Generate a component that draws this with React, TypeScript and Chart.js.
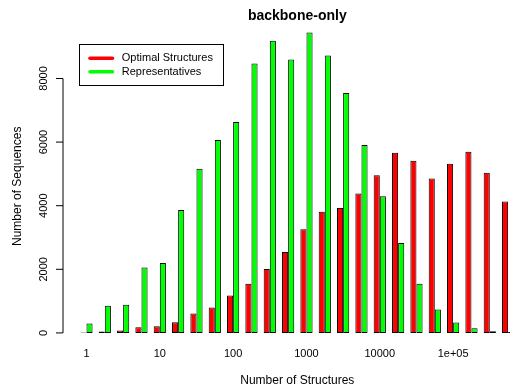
import React, { useEffect, useRef } from 'react';
import { Chart, registerables } from 'chart.js';

Chart.register(...registerables);

const FONT = '"Liberation Sans", Arial, Helvetica, sans-serif';

const chartTitle = 'backbone-only';
const xAxisTitle = 'Number of Structures';
const yAxisTitle = 'Number of Sequences';
const seriesNames = ['Optimal Structures', 'Representatives'];
const seriesColors = ['#FF0000', '#00FF00'];

// 24 bins, quarter-decade wide; only decade labels shown
const binLabels = [
  '1', '', '', '',
  '10', '', '', '',
  '100', '', '', '',
  '1000', '', '', '',
  '10000', '', '', '',
  '1e+05', '', '', '',
];

const optimalStructures = [
  15, 47, 78, 181, 212, 337, 608, 796, 1179, 1544, 2012, 2543,
  3260, 3810, 3925, 4384, 4955, 5663, 5413, 4852, 5320, 5694, 5039, 4134,
];

const representatives = [
  296, 858, 889, 2053, 2200, 3863, 5164, 6069, 6630, 8471, 9189, 8596,
  9448, 8721, 7544, 5912, 4300, 2824, 1544, 733, 328, 150, 56, 25,
];

const yTicks = [0, 2000, 4000, 6000, 8000];

const rStylePlugin = {
  id: 'rStyle',
  afterDraw(chart: any) {
    const ctx = chart.ctx;
    const ys = chart.scales.y;
    const area = chart.chartArea;
    const axisX = area.left - 14.3;
    ctx.save();
    // y axis line spanning tick range, with outward ticks
    ctx.strokeStyle = '#000';
    ctx.lineWidth = 1;
    ctx.beginPath();
    ctx.moveTo(axisX, ys.getPixelForValue(yTicks[0]));
    ctx.lineTo(axisX, ys.getPixelForValue(yTicks[yTicks.length - 1]));
    for (const v of yTicks) {
      const py = ys.getPixelForValue(v);
      ctx.moveTo(axisX - 7, py);
      ctx.lineTo(axisX, py);
    }
    ctx.stroke();

    // main title
    ctx.fillStyle = '#000';
    ctx.font = 'bold 14px ' + FONT;
    ctx.textAlign = 'center';
    ctx.textBaseline = 'alphabetic';
    ctx.fillText(chartTitle, (area.left + area.right) / 2, 19.5);

    // legend box
    const bx = area.left + 2.2;
    const by = 44.5;
    const bw = 144;
    const bh = 41;
    ctx.fillStyle = '#fff';
    ctx.fillRect(bx, by, bw, bh);
    ctx.strokeStyle = '#000';
    ctx.lineWidth = 1;
    ctx.strokeRect(bx, by, bw, bh);
    ctx.font = '11px ' + FONT;
    ctx.textAlign = 'left';
    ctx.textBaseline = 'middle';
    chart.data.datasets.forEach((ds: any, i: number) => {
      const ly = 58.3 + i * 13.4;
      ctx.strokeStyle = ds.backgroundColor;
      ctx.lineWidth = 3.5;
      ctx.lineCap = 'round';
      ctx.beginPath();
      ctx.moveTo(bx + 10.5, ly);
      ctx.lineTo(bx + 33, ly);
      ctx.stroke();
      ctx.fillStyle = '#000';
      ctx.fillText(ds.label, bx + 42.3, ly);
    });
    ctx.restore();
  },
};

export default function App() {
  const canvasRef = useRef<HTMLCanvasElement | null>(null);

  useEffect(() => {
    const canvas = canvasRef.current;
    if (!canvas) return;
    Chart.defaults.font.family = FONT;
    const chart = new Chart(canvas, {
      type: 'bar',
      data: {
        labels: binLabels,
        datasets: [
          {
            label: seriesNames[0],
            data: optimalStructures,
            backgroundColor: seriesColors[0],
            borderColor: '#000',
            borderWidth: 1,
            borderSkipped: false,
            categoryPercentage: 2 / 3,
            barPercentage: 1,
          },
          {
            label: seriesNames[1],
            data: representatives,
            backgroundColor: seriesColors[1],
            borderColor: '#000',
            borderWidth: 1,
            borderSkipped: false,
            categoryPercentage: 2 / 3,
            barPercentage: 1,
          },
        ],
      },
      options: {
        responsive: false,
        animation: false,
        devicePixelRatio: 1,
        layout: { padding: { top: 25, right: 2.7, bottom: 0, left: 0 } },
        plugins: {
          legend: { display: false },
          title: { display: false },
          tooltip: { enabled: false },
        },
        scales: {
          x: {
            type: 'category',
            offset: true,
            grid: { display: false, drawTicks: false },
            border: { display: false },
            ticks: {
              autoSkip: false,
              minRotation: 0,
              maxRotation: 0,
              padding: 2,
              color: '#000',
              font: { family: FONT, size: 11 },
            },
            title: {
              display: true,
              text: xAxisTitle,
              color: '#000',
              font: { family: FONT, size: 12 },
              padding: { top: 0, bottom: -1 },
            },
            afterFit: (s: any) => {
              s.height = 42;
            },
          },
          y: {
            type: 'linear',
            min: -380,
            max: 9600,
            grid: { display: false, drawTicks: false },
            border: { display: false },
            afterBuildTicks: (s: any) => {
              s.ticks = yTicks.map((v) => ({ value: v }));
            },
            ticks: {
              minRotation: 90,
              maxRotation: 90,
              crossAlign: 'center',
              padding: 21,
              color: '#000',
              font: { family: FONT, size: 11 },
              callback: (v: any) => String(v),
            },
            title: {
              display: true,
              text: yAxisTitle,
              color: '#000',
              font: { family: FONT, size: 12 },
              padding: { top: 10, bottom: 0 },
            },
            afterFit: (s: any) => {
              s.width = 77.3;
            },
          },
        },
      } as any,
      plugins: [rStylePlugin],
    });
    return () => chart.destroy();
  }, []);

  return (
    <div
      style={{
        position: 'fixed',
        left: 0,
        top: 0,
        width: 510,
        height: 387,
        overflow: 'hidden',
        background: '#fff',
      }}
    >
      <canvas ref={canvasRef} width={520} height={387} />
    </div>
  );
}
